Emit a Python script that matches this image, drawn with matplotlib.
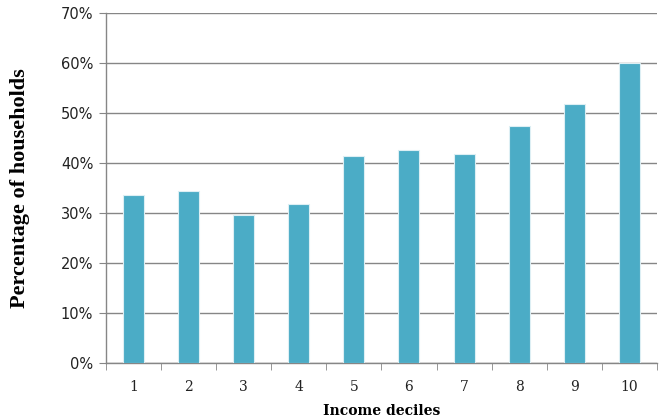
import numpy as np
import matplotlib.pyplot as plt
from matplotlib.ticker import PercentFormatter, MultipleLocator, FixedLocator

deciles = ['1', '2', '3', '4', '5', '6', '7', '8', '9', '10']
share = [33.6, 34.5, 29.7, 31.9, 41.5, 42.7, 41.8, 47.5, 51.9, 60.0]

grey = '#868686'
fig = plt.figure(figsize=(6.61, 4.20), dpi=100)
ax = fig.add_axes([0.160, 0.135, 0.834, 0.833])

x = np.arange(len(deciles))
ax.bar(x, share, width=0.38, color='#4BACC6', edgecolor='#DDEFF4', linewidth=0.8, zorder=3)

ax.set_xlim(-0.5, len(deciles) - 0.5)
ax.set_ylim(0, 70)
ax.yaxis.set_major_locator(MultipleLocator(10))
ax.yaxis.set_major_formatter(PercentFormatter(decimals=0))
ax.grid(axis='y', color=grey, linewidth=1, zorder=0)

ax.set_xticks(x)
ax.set_xticklabels(deciles, family='DejaVu Serif', fontsize=10, color='#222222')
ax.xaxis.set_minor_locator(FixedLocator(np.arange(-0.5, len(deciles), 1)))
ax.tick_params(axis='x', which='major', length=0, pad=12)
ax.tick_params(axis='x', which='minor', length=5, color=grey, direction='out')
ax.tick_params(axis='y', length=5, color=grey, labelsize=10.5, labelcolor='#222222', pad=4)
for lab in ax.get_yticklabels():
    lab.set_family('DejaVu Sans')

for side in ['top', 'right']:
    ax.spines[side].set_visible(False)
for side in ['left', 'bottom']:
    ax.spines[side].set_color(grey)
    ax.spines[side].set_linewidth(1)

ax.set_ylabel('Percentage of households', family='Liberation Serif', fontweight='bold',
              fontsize=16, labelpad=22)
ax.set_xlabel('Income deciles', family='DejaVu Serif', fontweight='bold', fontsize=10, labelpad=7)

fig.savefig('out.png', dpi=100)
